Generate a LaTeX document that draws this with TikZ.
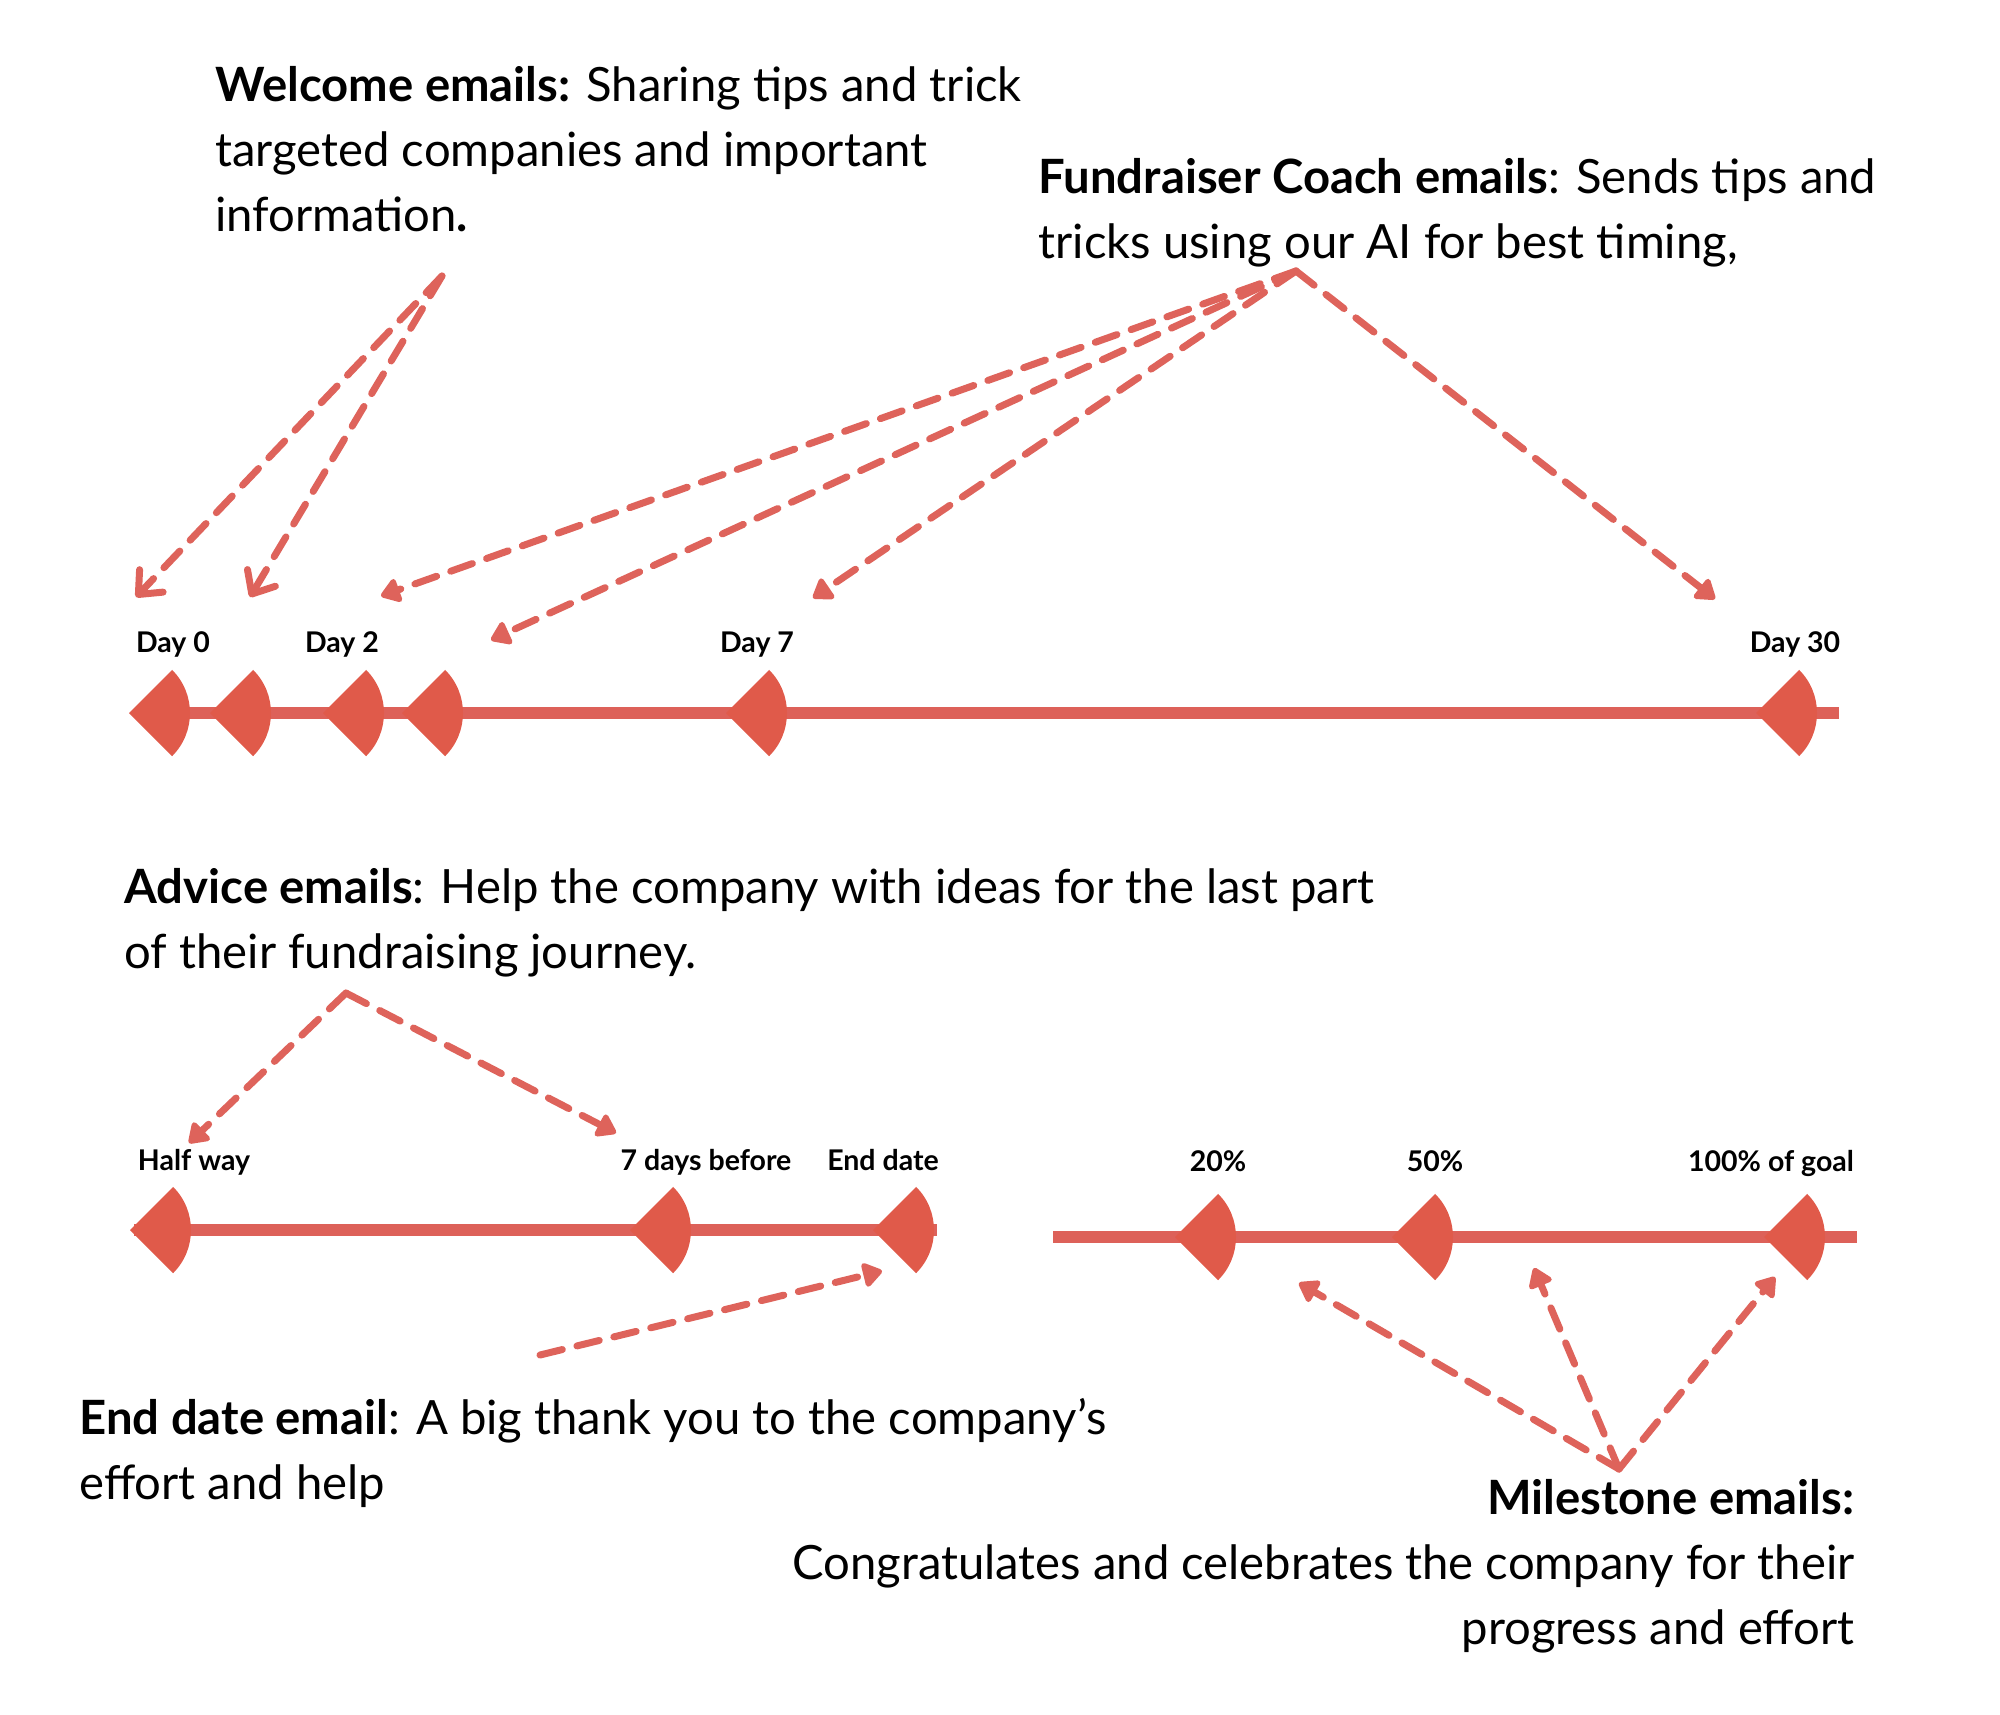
\documentclass[tikz,border=0pt]{standalone}
\usepackage{fontspec}
\setmainfont{Lato}
\usetikzlibrary{arrows.meta}
\definecolor{lnred}{HTML}{DD6159}
\definecolor{mkred}{HTML}{E05A4A}
\definecolor{arred}{HTML}{DE635B}
\tikzset{
  timeline/.style={draw=lnred, line width=4.8pt},
  sector/.style={fill=mkred},
  tick/.style={font=\fontsize{11.4}{13}\selectfont\bfseries, inner sep=0pt, anchor=base},
  note/.style={font=\fontsize{18.9}{26}\selectfont, align=left, inner sep=0pt, anchor=base west},
  hint/.style={draw=arred, line width=2.8pt, line cap=round, dash pattern=on 9.2pt off 6pt,
    -{Triangle[round, length=8.5pt, width=11pt]}},
  hintbarb/.style={hint, -{Straight Barb[round, length=7.5pt, width=13pt]}}
}
\newcommand{\sectorat}[1]{\fill[sector] (#1) -- ++(45:61) arc[start angle=45, end angle=-45, radius=61] -- cycle;}
\begin{document}
\begin{tikzpicture}[x=0.4pt, y=-0.4pt]
\useasboundingbox (0,0) rectangle (2000,1714);
% texts (placed at the baseline of their last line)
\node[note] (welcome) at (215,231) {\textbf{Welcome emails:} Sharing tips and trick\\targeted companies and important\\information\textbf{.}};
\node[note] (coach) at (1038,258) {\textbf{Fundraiser Coach emails}: Sends tips and\\tricks using our AI for best timing,};
\node[note] (advice) at (124,968) {\textbf{Advice emails}: Help the company with ideas for the last part\\of their fundraising journey.};
\node[note] (enddate) at (79,1499) {\textbf{End date email}: A big thank you to the company’s\\effort and help};
\node[note, align=right, anchor=base east] (milestone) at (1855,1644) {\textbf{Milestone emails:}\\Congratulates and celebrates the company for their\\progress and effort};
% first timeline
\coordinate (d0) at (129,713);
\coordinate (d1) at (210,713);
\coordinate (d2) at (323,713);
\coordinate (d3) at (402,713);
\coordinate (d7) at (726,713);
\coordinate (d30) at (1756,713);
\coordinate (tl1end) at (1839,713);
\draw[timeline] (d0) ++(11,0) -- (tl1end);
\sectorat{d0}
\sectorat{d1}
\sectorat{d2}
\sectorat{d3}
\sectorat{d7}
\sectorat{d30}
\node[tick] (day0) at (173,652) {Day 0};
\node[tick] (day2) at (342,652) {Day 2};
\node[tick] (day7) at (757,652) {Day 7};
\node[tick] (day30) at (1795,652) {Day 30};
% second timeline
\coordinate (half) at (130,1230);
\coordinate (before) at (630,1230);
\coordinate (end) at (873,1230);
\coordinate (tl2end) at (937,1230);
\draw[timeline] (half) ++(4,0) -- (tl2end);
\sectorat{half}
\sectorat{before}
\sectorat{end}
\node[tick] (halfway) at (194,1170) {Half way};
\node[tick] (daysbefore) at (706,1170) {7 days before};
\node[tick] (enddatelbl) at (883,1170) {End date};
% third timeline
\coordinate (tl3start) at (1053,1237);
\coordinate (p20) at (1175,1237);
\coordinate (p50) at (1392,1237);
\coordinate (p100) at (1764,1237);
\coordinate (tl3end) at (1857,1237);
\draw[timeline] (tl3start) -- (tl3end);
\sectorat{p20}
\sectorat{p50}
\sectorat{p100}
\node[tick] (pc20) at (1218,1171) {20\%};
\node[tick] (pc50) at (1435,1171) {50\%};
\node[tick] (pc100) at (1771,1171) {100\% of goal};
% arrows
\coordinate (wsrc) at (442,276);
\coordinate (wtip0) at (136,597);
\coordinate (wtip1) at (250,597);
\draw[hintbarb] (wsrc) -- (wtip0);
\draw[hintbarb] (wsrc) -- (wtip1);
\coordinate (csrc) at (1296,271);
\coordinate (ctip2) at (381,596);
\coordinate (ctip3) at (491,640);
\coordinate (ctip7) at (813,598);
\coordinate (ctip30) at (1715,599);
\draw[hint] (csrc) -- (ctip2);
\draw[hint] (csrc) -- (ctip3);
\draw[hint] (csrc) -- (ctip7);
\draw[hint] (csrc) -- (ctip30);
\coordinate (asrc) at (346,993);
\coordinate (atip0) at (189,1143);
\coordinate (atip1) at (616,1133);
\draw[hint] (asrc) -- (atip0);
\draw[hint] (asrc) -- (atip1);
\coordinate (esrc) at (540,1355);
\coordinate (etip) at (882,1271);
\draw[hint] (esrc) -- (etip);
\coordinate (msrc) at (1619,1469);
\coordinate (mtip0) at (1299,1283);
\coordinate (mtip1) at (1534,1268);
\coordinate (mtip2) at (1775,1277);
\draw[hint] (msrc) -- (mtip0);
\draw[hint] (msrc) -- (mtip1);
\draw[hint] (msrc) -- (mtip2);
\end{tikzpicture}
\end{document}
